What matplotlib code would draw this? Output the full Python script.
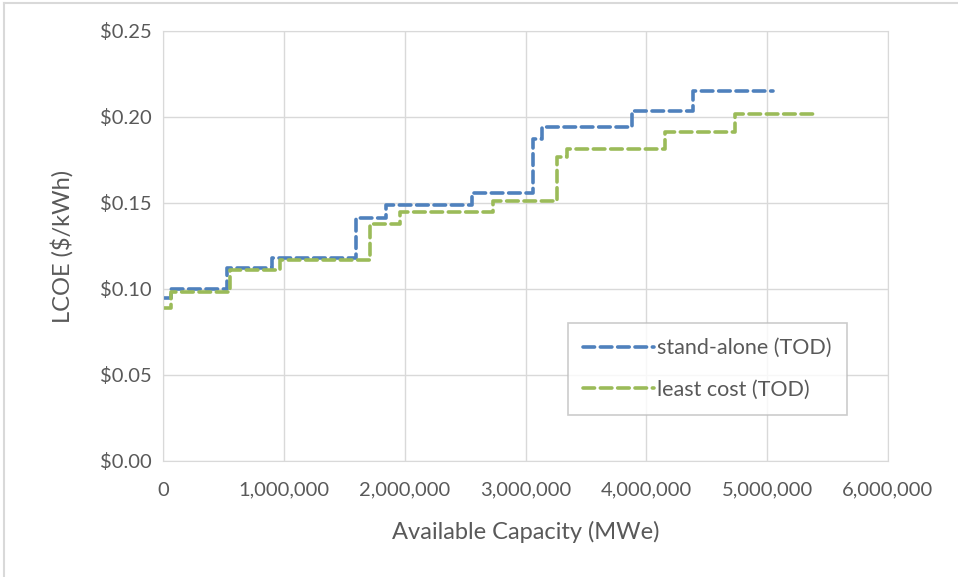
import matplotlib
matplotlib.use("Agg")
import matplotlib.pyplot as plt
from matplotlib.ticker import FuncFormatter, MultipleLocator
from matplotlib.lines import Line2D

plt.rcParams['font.family'] = ['Lato', 'DejaVu Sans']

standalone_x = [0, 65000, 530000, 900000, 1600000, 1846000, 2560000, 3066000, 3140000, 3880000, 4390000, 5050000]
standalone_y = [0.095, 0.100, 0.112, 0.118, 0.141, 0.149, 0.156, 0.1875, 0.194, 0.2035, 0.215, 0.215]

leastcost_x = [0, 65000, 555000, 970000, 1710000, 1960000, 2730000, 3260000, 3340000, 4155000, 4730000, 5420000]
leastcost_y = [0.089, 0.098, 0.111, 0.117, 0.1376, 0.1448, 0.151, 0.177, 0.1815, 0.1915, 0.2015, 0.2015]

series_labels = ["stand-alone (TOD)", "least cost (TOD)"]

fig = plt.figure(figsize=(9.58, 5.77), dpi=100)
ax = fig.add_axes([163/958, 1-461/577, (888-163)/958, (461-31)/577])

blue = "#4F81BD"
green = "#9BBB59"
kw = dict(drawstyle="steps-post", linewidth=2.6, dash_capstyle="round")
l1, = ax.plot(standalone_x, standalone_y, color=blue, linestyle=(0, (3.2, 1.6)), **kw)
l2, = ax.plot(leastcost_x, leastcost_y, color=green, linestyle=(0, (3.2, 1.6)), **kw)

ax.set_xlim(0, 6000000)
ax.set_ylim(0, 0.25)
ax.xaxis.set_major_locator(MultipleLocator(1000000))
ax.yaxis.set_major_locator(MultipleLocator(0.05))
ax.xaxis.set_major_formatter(FuncFormatter(lambda v, p: f"{int(v):,}"))
ax.yaxis.set_major_formatter(FuncFormatter(lambda v, p: f"\\${v:.2f}"))
ax.grid(True, color="#D9D9D9", linewidth=1)
ax.set_axisbelow(True)
for s in ax.spines.values():
    s.set_color("#D9D9D9")
ax.tick_params(length=0, labelsize=14.5, labelcolor="#595959")
ax.tick_params(axis="x", pad=15)
ax.tick_params(axis="y", pad=8)
ax.set_xlabel("Available Capacity (MWe)", fontsize=17, color="#595959", labelpad=16)
ax.set_ylabel("LCOE (\\$/kWh)", fontsize=17, color="#595959", labelpad=19)

leg = fig.legend([l1, l2], series_labels, loc="upper left",
                 bbox_to_anchor=(568/958, 1-323/577), fontsize=15.5,
                 frameon=True, fancybox=False, edgecolor="#BFBFBF",
                 handlelength=3.3, handletextpad=0.15, labelspacing=1.0,
                 borderpad=0.7, borderaxespad=0)
leg.get_frame().set_linewidth(1.2)
for t in leg.get_texts():
    t.set_color("#595959")

fig.add_artist(Line2D([4/958, 1], [1-3/577, 1-3/577], color="#D9D9D9", linewidth=1.5))
fig.add_artist(Line2D([4/958, 4/958], [0, 1-3/577], color="#D9D9D9", linewidth=1.5))

fig.savefig("out.png", dpi=100)
